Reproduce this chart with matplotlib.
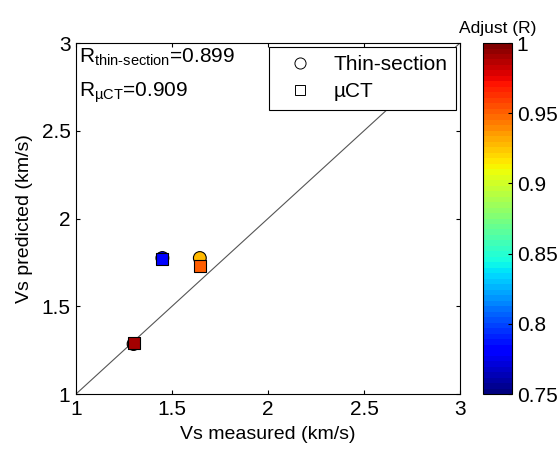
import numpy as np
import matplotlib
matplotlib.use("Agg")
import matplotlib.pyplot as plt
from matplotlib.lines import Line2D
from matplotlib.colors import ListedColormap

plt.rcParams['font.family'] = ['Liberation Sans', 'DejaVu Sans']
plt.rcParams['mathtext.fontset'] = 'custom'
plt.rcParams['mathtext.rm'] = 'Liberation Sans'

# thin-section points
ts_meas = [1.30, 1.45, 1.645]
ts_pred = [1.285, 1.775, 1.775]
ts_r = [0.99, 0.785, 0.928]

# uCT points
ct_meas = [1.30, 1.45, 1.645]
ct_pred = [1.29, 1.77, 1.732]
ct_r = [0.99, 0.785, 0.952]

r_thin = 0.899
r_ct = 0.909

cmap = ListedColormap(plt.get_cmap('jet')(np.linspace(0, 1, 64)))

fig = plt.figure(figsize=(5.6, 4.5), dpi=100)
ax = fig.add_axes([0.1357, 0.1244, 0.6857, 0.78])
cax = fig.add_axes([0.8625, 0.1244, 0.0518, 0.78])

ax.plot([1, 3], [1, 3], color='#555555', lw=0.8)
sc = ax.scatter(ts_meas, ts_pred, c=ts_r, cmap=cmap, vmin=0.75, vmax=1,
                marker='o', s=85, edgecolors='black', linewidths=0.8, zorder=3)
ax.scatter(ct_meas, ct_pred, c=ct_r, cmap=cmap, vmin=0.75, vmax=1,
           marker='s', s=75, edgecolors='black', linewidths=0.8, zorder=4)

ax.set_xlim(1, 3)
ax.set_ylim(1, 3)
ax.set_xticks([1, 1.5, 2, 2.5, 3])
ax.set_yticks([1, 1.5, 2, 2.5, 3])
ax.set_xticklabels(['1', '1.5', '2', '2.5', '3'])
ax.set_yticklabels(['1', '1.5', '2', '2.5', '3'])
ax.tick_params(direction='in', top=True, right=True, labelsize=15, length=3, pad=4)
ax.set_xlabel('Vs measured (km/s)', fontsize=14, labelpad=5)
ax.set_ylabel('Vs predicted (km/s)', fontsize=14, labelpad=6)

ax.text(0.008, 0.99, r'R$_{\rm thin\text{-}section}$=%.3f' % r_thin, transform=ax.transAxes,
        fontsize=15, va='top', ha='left')
ax.text(0.008, 0.895, r'R$_{\rm µCT}$=%.3f' % r_ct, transform=ax.transAxes,
        fontsize=15, va='top', ha='left')

handles = [Line2D([], [], marker='o', ls='none', mfc='white', mec='black', ms=8, mew=0.7),
           Line2D([], [], marker='s', ls='none', mfc='white', mec='black', ms=7, mew=0.7)]
leg = ax.legend(handles, ['Thin-section', 'µCT'], loc='upper right', fontsize=15,
                fancybox=False, edgecolor='black', framealpha=1,
                borderpad=0.4, handletextpad=0.5, labelspacing=0.4, borderaxespad=0,
                handlelength=2.2, bbox_to_anchor=(0.99, 0.99))
leg.get_frame().set_linewidth(0.8)

cb = fig.colorbar(sc, cax=cax)
cb.set_ticks([0.75, 0.8, 0.85, 0.9, 0.95, 1])
cb.set_ticklabels(['0.75', '0.8', '0.85', '0.9', '0.95', '1'])
cb.ax.tick_params(labelsize=15, direction='in', length=3)
cb.outline.set_linewidth(0.8)
cax.set_title('Adjust (R)', fontsize=12.5, pad=7)

fig.savefig('out.png', dpi=100)
